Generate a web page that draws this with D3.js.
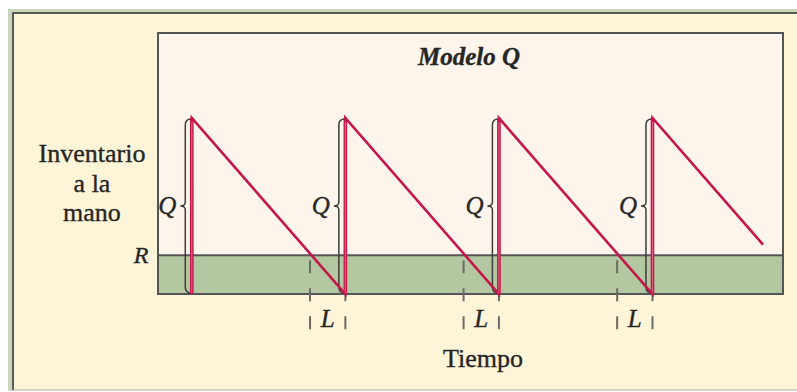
<!DOCTYPE html>
<html>
<head>
<meta charset="utf-8">
<script src="https://cdn.jsdelivr.net/npm/d3@7"></script>
<style>
  body { margin: 0; background: #fff; }
  text { font-family: "Liberation Serif", "DejaVu Serif", serif; fill: #262626; stroke: #262626; stroke-width: 0.35px; }
</style>
</head>
<body>
<svg id="chart" width="797" height="392"></svg>
<script>
// inventory model values (units: time, stock)
var Q = 100;
var R = 22;
var arrivals = [2.2, 12.2, 22.2, 32.2];          // order received, stock jumps by Q
var reorders = [9.9, 19.9, 29.9];                // stock reaches R, order placed
var sawTime = [2.2, 2.2, 12.2, 12.2, 22.2, 22.2, 32.2, 32.2, 39.4];
var sawStock = [0, 100, 0, 100, 0, 100, 0, 100, 28];
var yLabel = ['Inventario', 'a la', 'mano'];

var svg = d3.select('#chart');
var box = {left: 158, right: 783, top: 33, bottom: 294};

var x = d3.scaleLinear().domain([0, 40.7]).range([box.left, box.right]);
var y = d3.scaleLinear().domain([0, 148.3]).range([box.bottom, box.top]);

// page frame
svg.append('rect').attr('x', 8).attr('y', 9).attr('width', 789).attr('height', 383).attr('fill', '#c9d6b9');
svg.append('rect').attr('x', 12).attr('y', 12).attr('width', 785).attr('height', 377).attr('fill', '#fef4d7');
svg.append('line').attr('x1', 12.5).attr('x2', 797).attr('y1', 13).attr('y2', 13).attr('stroke', '#5a5a55').attr('stroke-width', 2);
svg.append('line').attr('x1', 13).attr('x2', 13).attr('y1', 12.5).attr('y2', 390).attr('stroke', '#5a5a55').attr('stroke-width', 2);
svg.append('line').attr('x1', 8).attr('x2', 797).attr('y1', 390.5).attr('y2', 390.5).attr('stroke', '#d5d5d0').attr('stroke-width', 1.5);
svg.append('rect').attr('x', 0).attr('y', 391).attr('width', 797).attr('height', 1).attr('fill', '#fff');

// plot area
svg.append('rect')
    .attr('x', box.left).attr('y', box.top)
    .attr('width', box.right - box.left).attr('height', box.bottom - box.top)
    .attr('fill', '#fdf5ec').attr('stroke', '#555').attr('stroke-width', 2);

svg.append('rect')
    .attr('x', box.left).attr('y', y(R))
    .attr('width', box.right - box.left).attr('height', y(0) - y(R))
    .attr('fill', '#b3c8a0').attr('stroke', '#555').attr('stroke-width', 2);

// lead time dashed markers
var dashG = svg.append('g')
    .attr('stroke', '#6a6a66').attr('stroke-width', 2)
    .attr('stroke-dasharray', '13,15').attr('stroke-dashoffset', 23);
reorders.forEach(function (t, i) {
    [t, arrivals[i + 1]].forEach(function (tt) {
        dashG.append('line')
            .attr('x1', x(tt)).attr('x2', x(tt))
            .attr('y1', y(R)).attr('y2', 330);
    });
    svg.append('text')
        .attr('x', (x(t) + x(arrivals[i + 1])) / 2).attr('y', 327)
        .attr('text-anchor', 'middle')
        .style('font-style', 'italic').style('font-size', '25px')
        .text('L');
});

// braces for Q
arrivals.forEach(function (t) {
    var xv = x(t) - 6.5, yt = y(Q) + 1, yb = y(0) - 1, ym = (yt + yb) / 2;
    var p = d3.path();
    p.moveTo(xv + 6, yt);
    p.quadraticCurveTo(xv, yt, xv, yt + 6);
    p.lineTo(xv, ym - 4);
    p.quadraticCurveTo(xv, ym, xv - 5, ym);
    p.quadraticCurveTo(xv, ym, xv, ym + 4);
    p.lineTo(xv, yb - 6);
    p.quadraticCurveTo(xv, yb, xv + 6, yb);
    svg.append('path').attr('d', p.toString())
        .attr('fill', 'none').attr('stroke', '#3d3d3d').attr('stroke-width', 1.5);
    svg.append('text')
        .attr('x', xv - 18).attr('y', ym + 8)
        .attr('text-anchor', 'middle')
        .style('font-style', 'italic').style('font-size', '25px')
        .text('Q');
});

// sawtooth stock line
var pts = sawTime.map(function (t, i) { return [t, sawStock[i]]; });
svg.append('path')
    .datum(pts)
    .attr('d', d3.line().x(function (d) { return x(d[0]); }).y(function (d) { return y(d[1]); }))
    .attr('fill', 'none').attr('stroke', '#c4164a').attr('stroke-width', 2.6)
    .attr('stroke-linejoin', 'miter');

svg.selectAll('.rise').data(arrivals).enter().append('line')
    .attr('class', 'rise')
    .attr('x1', function (d) { return x(d); }).attr('x2', function (d) { return x(d); })
    .attr('y1', y(0)).attr('y2', y(Q))
    .attr('stroke', '#c4164a').attr('stroke-width', 3.6);
svg.selectAll('.rise-in').data(arrivals).enter().append('line')
    .attr('class', 'rise-in')
    .attr('x1', function (d) { return x(d); }).attr('x2', function (d) { return x(d); })
    .attr('y1', y(0) - 1).attr('y2', y(Q) + 4)
    .attr('stroke', '#e27a94').attr('stroke-width', 0.8);

// labels
svg.append('text')
    .attr('x', 469).attr('y', 65)
    .attr('text-anchor', 'middle')
    .style('font-style', 'italic').style('font-weight', 'bold').style('font-size', '25px')
    .text('Modelo Q');

svg.append('text')
    .attr('x', 141).attr('y', y(R) + 8)
    .attr('text-anchor', 'middle')
    .style('font-style', 'italic').style('font-size', '24px')
    .text('R');

svg.selectAll('.ylab').data(yLabel).enter().append('text')
    .attr('class', 'ylab')
    .attr('x', 92).attr('y', function (d, i) { return 162 + i * 29.5; })
    .attr('text-anchor', 'middle')
    .style('font-size', '26px')
    .text(function (d) { return d; });

svg.append('text')
    .attr('x', 483).attr('y', 367)
    .attr('text-anchor', 'middle')
    .style('font-size', '26px')
    .text('Tiempo');
</script>
</body>
</html>
